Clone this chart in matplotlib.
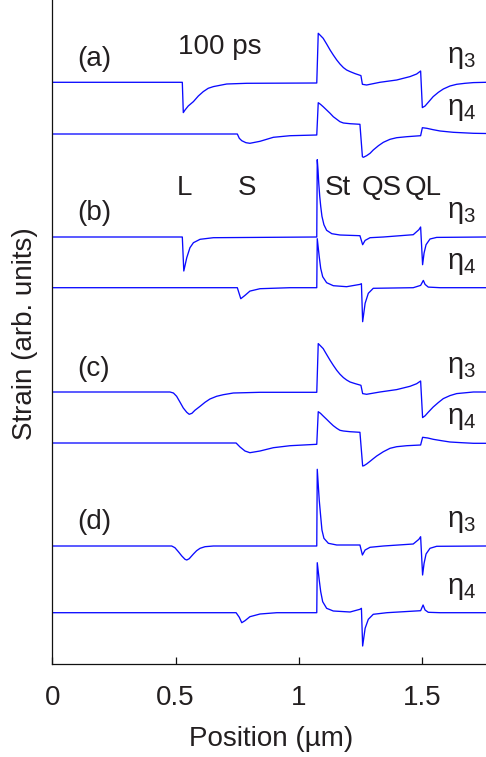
import matplotlib
matplotlib.use("Agg")
import matplotlib.pyplot as plt

plt.rcParams['font.family'] = ['Liberation Sans', 'DejaVu Sans']
plt.rcParams['mathtext.fontset'] = 'custom'
plt.rcParams['mathtext.rm'] = 'Liberation Sans'
plt.rcParams['mathtext.it'] = 'Liberation Sans'
plt.rcParams['mathtext.bf'] = 'Liberation Sans'

# ---------------- data (x in micrometres, strain in arb. units) ----------------
panels = ['(a)', '(b)', '(c)', '(d)']
components = [r'$\eta_3$', r'$\eta_4$']
# vertical offsets of the eight traces (arb. units)
baselines = [581.7, 530.0, 427.0, 376.3, 272.0, 221.0, 118.0, 51.3]

a_eta3_x = [0.000, 0.527, 0.531, 0.538, 0.551, 0.572, 0.592, 0.612, 0.632, 0.653, 0.707, 0.788,
            1.072, 1.078, 1.085, 1.098, 1.112, 1.126, 1.139, 1.153, 1.166, 1.180, 1.193, 1.207,
            1.227, 1.251, 1.257, 1.274, 1.328, 1.396, 1.450, 1.477, 1.493, 1.500, 1.511, 1.524,
            1.544, 1.565, 1.585, 1.612, 1.639, 1.673, 1.707, 1.758]
a_eta3_y = [0.0, 0.0, -30.3, -27.7, -23.7, -19.3, -13.7, -9.3, -6.0, -4.3, -1.7, -1.0,
            -0.7, 49.0, 47.3, 44.0, 38.3, 32.3, 27.3, 22.3, 18.3, 14.7, 12.3, 10.7,
            8.7, 6.7, -2.0, -2.7, 0.0, 2.3, 5.7, 8.3, 11.3, -25.3, -23.7, -20.0,
            -14.3, -10.0, -6.7, -3.7, -2.0, -1.0, -0.3, 0.0]

a_eta4_x = [0.000, 0.750, 0.758, 0.768, 0.785, 0.801, 0.842, 0.896, 0.964, 1.072, 1.078, 1.087,
            1.098, 1.112, 1.126, 1.139, 1.153, 1.166, 1.180, 1.207, 1.247, 1.257, 1.261, 1.274,
            1.288, 1.301, 1.322, 1.342, 1.369, 1.396, 1.437, 1.493, 1.500, 1.518, 1.544, 1.572,
            1.625, 1.707, 1.758]
a_eta4_y = [0.0, 0.0, -4.3, -6.7, -8.7, -9.3, -7.3, -3.3, -1.7, -1.0, 31.3, 29.7,
            27.3, 24.0, 20.7, 17.3, 14.7, 12.3, 11.0, 10.3, 9.7, -22.7, -23.3, -21.7,
            -19.3, -16.0, -11.7, -8.3, -5.3, -3.7, -2.7, -1.7, 6.3, 5.7, 4.3, 3.0,
            1.7, 0.7, 0.5]

b_eta3_x = [0.000, 0.527, 0.533, 0.545, 0.558, 0.572, 0.599, 0.653, 1.072, 1.074, 1.077, 1.080,
            1.084, 1.088, 1.093, 1.101, 1.112, 1.133, 1.166, 1.247, 1.258, 1.268, 1.288, 1.342,
            1.463, 1.486, 1.493, 1.501, 1.507, 1.515, 1.531, 1.558, 1.758]
b_eta3_y = [0.0, 0.0, -34.0, -20.7, -10.7, -5.7, -2.3, -0.7, 0.0, 77.3, 67.3, 54.0,
            40.7, 30.7, 20.7, 12.3, 6.7, 3.3, 2.0, 1.3, -7.7, -3.4, -0.7, 0.0,
            2.3, 7.3, 10.0, -27.7, -16.0, -7.7, -2.0, -0.4, 0.0]

b_eta4_x = [0.000, 0.750, 0.764, 0.781, 0.801, 0.842, 0.964, 1.072, 1.074, 1.082, 1.088, 1.096,
            1.112, 1.139, 1.193, 1.247, 1.253, 1.258, 1.268, 1.281, 1.301, 1.463, 1.493, 1.504,
            1.511, 1.524, 1.572, 1.758]
b_eta4_y = [0.0, 0.0, -11.0, -7.7, -3.4, -1.0, 0.0, 0.0, 49.0, 31.0, 19.3, 11.0,
            5.0, 2.0, 1.0, 3.3, 4.0, -34.0, -15.6, -5.6, -0.6, 0.0, 2.3, 7.3,
            3.3, 0.6, 0.0, 0.0]

c_eta3_x = [0.000, 0.477, 0.491, 0.504, 0.518, 0.531, 0.545, 0.555, 0.566, 0.578, 0.599, 0.619,
            0.639, 0.666, 0.693, 0.734, 0.842, 1.072, 1.078, 1.085, 1.098, 1.112, 1.126, 1.139,
            1.153, 1.166, 1.180, 1.193, 1.207, 1.227, 1.251, 1.258, 1.274, 1.328, 1.396, 1.450,
            1.477, 1.493, 1.501, 1.511, 1.524, 1.544, 1.565, 1.585, 1.612, 1.639, 1.673, 1.707,
            1.758]
c_eta3_y = [0.0, 0.0, -1.0, -4.3, -10.3, -16.0, -20.3, -22.3, -21.3, -18.3, -14.3, -10.3,
            -7.0, -4.3, -2.7, -1.0, -0.3, -0.3, 48.4, 46.7, 43.4, 37.5, 31.7, 26.7,
            21.7, 17.8, 14.4, 12.0, 10.0, 8.4, 6.7, -1.6, -2.3, 0.0, 2.4, 5.7,
            8.3, 11.0, -25.6, -23.8, -20.2, -15.0, -10.5, -6.6, -3.6, -1.6, -0.8, 0.0,
            0.0]

c_eta4_x = [0.000, 0.745, 0.761, 0.781, 0.801, 0.842, 0.896, 0.964, 1.072, 1.078, 1.087, 1.098,
            1.112, 1.126, 1.139, 1.153, 1.166, 1.180, 1.207, 1.247, 1.258, 1.263, 1.274, 1.288,
            1.301, 1.315, 1.342, 1.369, 1.396, 1.437, 1.493, 1.501, 1.522, 1.544, 1.578, 1.612,
            1.660, 1.707, 1.758]
c_eta4_y = [0.0, 0.0, -4.0, -8.0, -9.7, -8.0, -4.7, -2.7, -1.3, 31.3, 29.7, 27.0,
            23.7, 20.3, 17.3, 14.7, 12.7, 12.0, 11.3, 10.7, -23.0, -22.7, -21.0, -18.3,
            -15.7, -13.0, -8.7, -5.3, -3.7, -2.7, -2.0, 5.7, 5.0, 3.7, 2.3, 1.0,
            0.3, -0.3, -0.3]

d_eta3_x = [0.000, 0.484, 0.497, 0.511, 0.525, 0.538, 0.545, 0.555, 0.572, 0.585, 0.599, 0.619,
            0.653, 1.072, 1.074, 1.082, 1.088, 1.093, 1.101, 1.119, 1.153, 1.247, 1.257, 1.268,
            1.288, 1.342, 1.463, 1.486, 1.493, 1.501, 1.507, 1.515, 1.531, 1.558, 1.758]
d_eta3_y = [0.0, 0.0, -1.7, -5.7, -10.0, -13.3, -14.0, -12.7, -8.0, -4.7, -2.3, -0.7,
            0.0, 0.0, 76.7, 46.0, 29.3, 16.0, 7.7, 2.7, 1.0, 1.0, -9.0, -4.0,
            -1.3, 0.0, 2.0, 6.7, 9.3, -29.0, -17.3, -8.0, -2.3, -0.3, 0.0]

d_eta4_x = [0.000, 0.745, 0.758, 0.768, 0.781, 0.801, 0.842, 0.910, 1.072, 1.074, 1.082, 1.088,
            1.096, 1.112, 1.139, 1.207, 1.247, 1.253, 1.258, 1.268, 1.281, 1.301, 1.356, 1.493,
            1.503, 1.511, 1.524, 1.572, 1.758]
d_eta4_y = [0.0, 0.0, -4.6, -10.0, -8.0, -4.0, -1.3, 0.0, 0.0, 50.0, 32.7, 21.0,
            11.0, 4.4, 1.7, 0.7, 3.4, 4.4, -33.3, -15.6, -6.6, -1.6, 0.0, 2.0,
            7.7, 2.7, 0.4, 0.0, 0.0]

traces_x = [a_eta3_x, a_eta4_x, b_eta3_x, b_eta4_x, c_eta3_x, c_eta4_x, d_eta3_x, d_eta4_x]
traces_y = [a_eta3_y, a_eta4_y, b_eta3_y, b_eta4_y, c_eta3_y, c_eta4_y, d_eta3_y, d_eta4_y]

mode_labels = ['L', 'S', 'St', 'QS', 'QL']
mode_label_x = [0.505, 0.753, 1.105, 1.255, 1.430]
xticks = [0, 0.5, 1, 1.5]
xtick_labels = ['0', '0.5', '1', '1.5']

# ---------------- figure ----------------
W, H = 486, 757
fig = plt.figure(figsize=(W / 100, H / 100), dpi=100)
ax = fig.add_axes([52.3 / W, 1 - 664 / H, (W - 52.3) / W, 664 / H])

line_color = '#0a0aff'
text_color = '#231f20'
fs = 20

for xs, ys, b in zip(traces_x, traces_y, baselines):
    ax.plot(xs, [b + v for v in ys], color=line_color, lw=0.95, solid_joinstyle='round')

ax.set_xlim(0, 1.758)
ax.set_ylim(0, 664)

for s in ['top', 'right']:
    ax.spines[s].set_visible(False)
for s in ['left', 'bottom']:
    ax.spines[s].set_linewidth(0.9)
    ax.spines[s].set_color('#111111')

ax.set_yticks([])
ax.set_xticks(xticks)
ax.set_xticklabels(xtick_labels)
ax.tick_params(axis='x', direction='in', length=5, width=0.9, labelsize=fs,
               pad=15, colors='#111111', labelcolor=text_color)

# panel labels
panel_y = [605, 451, 295, 142]
for lab, py in zip(panels, panel_y):
    ax.text(0.100, py, lab, fontsize=fs, color=text_color, ha='left', va='center')

ax.text(0.509, 617.5, '100 ps', fontsize=fs, color=text_color, ha='left', va='center')

for lab, lx in zip(mode_labels, mode_label_x):
    ax.text(lx, 476, lab, fontsize=fs, color=text_color, ha='left', va='center')

for i, b in enumerate(baselines):
    ax.text(1.600, b + 19, components[i % 2], fontsize=fs + 1, color=text_color,
            ha='left', va='baseline')

fig.text(270.8 / W, 1 - 746 / H, 'Position (\u00b5m)', fontsize=fs, color=text_color,
         ha='center', va='baseline')
fig.text(25 / W, 1 - 333.5 / H, 'Strain (arb. units)', fontsize=fs, color=text_color,
         ha='center', va='center', rotation=90)

fig.savefig('out.png', dpi=100)
